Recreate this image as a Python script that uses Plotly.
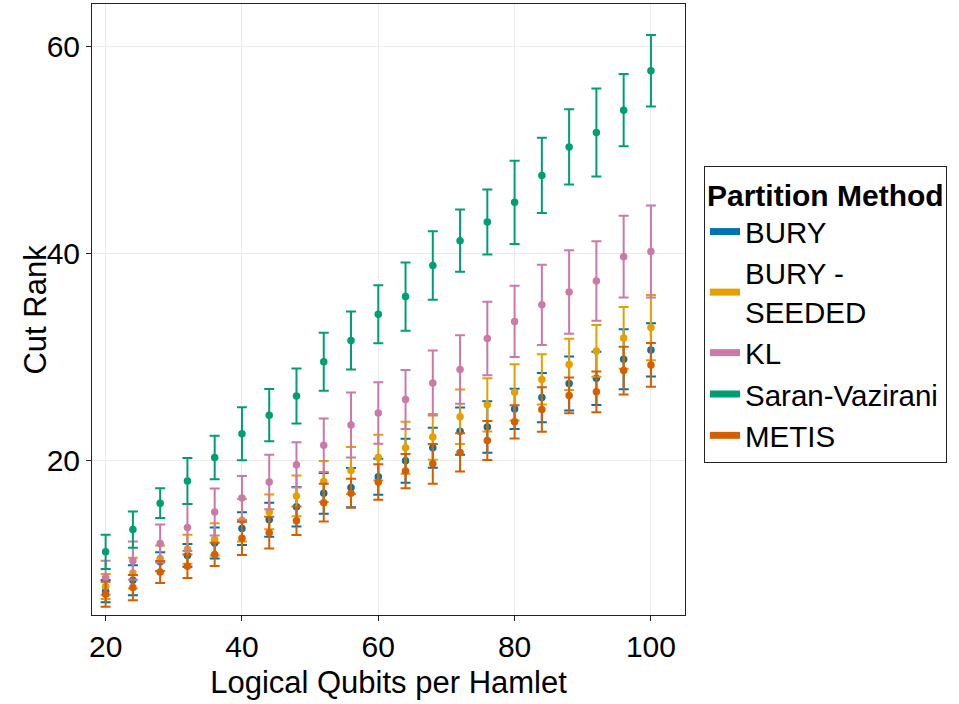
import plotly.graph_objects as go

qubits = list(range(20, 101, 4))

methods = ["BURY", "BURY - SEEDED", "KL", "Saran-Vazirani", "METIS"]
legend_labels = ["BURY", "BURY -<br>SEEDED", "KL", "Saran-Vazirani", "METIS"]
colors = ["#0072B2", "#E69F00", "#CC79A7", "#009E73", "#D55E00"]

bury_mean = [7.4, 8.45, 10.25, 10.85, 12.05, 13.45, 14.3, 15.55, 16.85, 17.4, 18.45,
             20.0, 21.25, 22.85, 23.25, 25.0, 26.1, 27.45, 27.95, 29.8, 30.7]
bury_err = [1.07, 1.45, 0.9, 1.1, 1.5, 1.58, 1.65, 1.9, 1.97, 1.9, 1.75,
            2.13, 1.92, 2.28, 2.48, 1.95, 2.38, 2.6, 2.58, 2.9, 2.57]

seeded_mean = [7.85, 9.15, 10.55, 11.45, 12.4, 14.25, 15.05, 16.6, 18.0, 19.05, 20.3,
               21.25, 22.3, 24.25, 25.4, 26.6, 27.85, 29.3, 30.6, 31.85, 32.85]
seeded_err = [1.2, 1.48, 1.26, 1.4, 1.55, 2.05, 1.68, 1.96, 1.98, 2.27, 2.21,
              2.52, 2.22, 2.63, 2.57, 2.71, 2.42, 2.47, 2.5, 2.98, 3.16]

kl_mean = [8.7, 10.35, 12.0, 13.55, 15.05, 16.4, 17.95, 19.6, 21.5, 23.45, 24.6,
           25.9, 27.5, 28.8, 31.8, 33.45, 35.05, 36.3, 37.35, 39.7, 40.2]
kl_err = [1.65, 1.84, 1.84, 2.26, 2.27, 2.13, 2.63, 2.18, 2.58, 3.13, 2.97,
          2.85, 3.13, 3.31, 3.55, 3.44, 3.87, 4.03, 3.84, 3.95, 4.45]

sv_mean = [11.2, 13.35, 15.9, 18.05, 20.3, 22.6, 24.4, 26.25, 29.55, 31.6, 34.15,
           35.85, 38.85, 41.25, 43.05, 44.95, 47.55, 50.3, 51.7, 53.85, 57.65]
sv_err = [1.66, 1.75, 1.44, 2.22, 2.1, 2.55, 2.52, 2.66, 2.8, 2.8, 2.8,
          3.3, 3.3, 3.0, 3.13, 4.02, 3.63, 3.63, 4.25, 3.49, 3.45]

metis_mean = [7.1, 7.75, 9.25, 9.8, 10.95, 12.5, 13.05, 14.2, 15.95, 16.85, 17.95,
              19.0, 19.7, 20.8, 21.95, 23.75, 24.95, 26.3, 26.65, 28.7, 29.25]
metis_err = [1.2, 1.22, 1.07, 1.13, 1.12, 1.6, 1.54, 1.37, 1.83, 1.4, 1.71,
             1.65, 1.92, 1.84, 1.88, 1.6, 2.15, 1.73, 1.97, 2.3, 2.12]

means = [bury_mean, seeded_mean, kl_mean, sv_mean, metis_mean]
errs = [bury_err, seeded_err, kl_err, sv_err, metis_err]

x_ticks = [20, 40, 60, 80, 100]
y_ticks = [20, 40, 60]

FONT = "Liberation Sans, Arial, sans-serif"
FS_TICK = 30
FS = 31
FS_LEG = 29.5

fig = go.Figure()

for name, col, m, e in zip(methods, colors, means, errs):
    fig.add_trace(go.Scatter(
        x=qubits, y=m, mode="markers", name=name, showlegend=False,
        marker=dict(color=col, size=7.5),
        error_y=dict(type="data", array=e, visible=True, color=col,
                     thickness=2, width=5),
    ))

for lab, col in zip(legend_labels, colors):
    fig.add_trace(go.Scatter(
        x=[None], y=[None], mode="lines", name=lab, showlegend=True,
        line=dict(color=col, width=7),
    ))

axis_common = dict(
    showgrid=True, gridcolor="#ebebeb", gridwidth=1, automargin=False,
    zeroline=False, showline=True, linecolor="#222", linewidth=1, mirror=True,
    ticks="outside", ticklen=5, tickcolor="#222", tickwidth=1,
    tickfont=dict(family=FONT, size=FS_TICK, color="black"),
)

fig.update_layout(
    width=959, height=704,
    margin=dict(l=92, r=274, t=4, b=89, autoexpand=False),
    paper_bgcolor="white", plot_bgcolor="white",
    font=dict(family=FONT, size=FS, color="black"),
    xaxis=dict(range=[18, 105], tickvals=x_ticks,
               title=dict(text="Logical Qubits per Hamlet",
                          font=dict(family=FONT, size=FS), standoff=9),
               **axis_common),
    yaxis=dict(range=[5.1, 64.1], tickvals=y_ticks, **axis_common),
    annotations=[dict(
        text="Cut Rank", xref="paper", yref="paper", x=-0.096, y=0.5,
        xanchor="center", yanchor="middle", textangle=-90, showarrow=False,
        font=dict(family=FONT, size=FS, color="black"),
    )],
    legend=dict(
        x=1.032, xanchor="left", y=0.735, yanchor="top",
        bordercolor="#222", borderwidth=1, bgcolor="white",
        font=dict(family=FONT, size=FS_LEG, color="black"),
        title=dict(text="<b>Partition Method</b>",
                   font=dict(family=FONT, size=30, color="black")),
        itemwidth=30, tracegroupgap=0, valign="middle",
    ),
)

fig.write_html("out.html", config={"displayModeBar": False},
               post_script="document.body.style.margin='0';document.body.style.overflow='hidden';")
